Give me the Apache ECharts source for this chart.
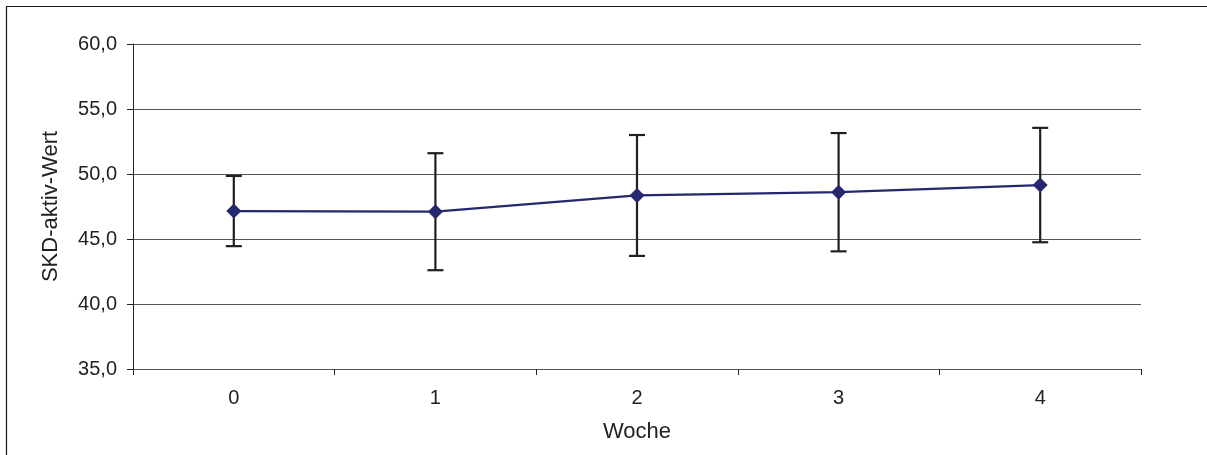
<!DOCTYPE html>
<html>
<head>
<meta charset="utf-8">
<script src="https://cdn.jsdelivr.net/npm/echarts@6/dist/echarts.min.js"></script>
<style>
  html, body { margin: 0; padding: 0; background: #fff; }
  #chart { width: 1207px; height: 455px; }
</style>
</head>
<body>
<div id="chart"></div>
<script>
// Weekly SKD-aktiv scores: mean and standard deviation per week
const weeks = ['0', '1', '2', '3', '4'];
const means = [47.15, 47.1, 48.35, 48.6, 49.15];
const sds = [2.7, 4.5, 4.65, 4.55, 4.4];
const yTicks = { min: 35, max: 60, step: 5 };

const errorData = weeks.map((w, i) => [i, means[i] - sds[i], means[i] + sds[i]]);

const textColor = '#222';
const font = '"Liberation Sans", Arial, sans-serif';

const chart = echarts.init(document.getElementById('chart'), null, { renderer: 'canvas' });

chart.setOption({
  animation: false,
  backgroundColor: '#fff',
  graphic: [{
    type: 'rect',
    shape: { x: 6.5, y: 6.5, width: 1400, height: 600 },
    style: { fill: 'none', stroke: '#1a1a1a', lineWidth: 1.2 },
    silent: true,
    z: 0
  }],
  grid: { left: 133, right: 66, top: 44, bottom: 86 },
  xAxis: {
    type: 'category',
    data: weeks,
    boundaryGap: true,
    name: 'Woche',
    nameLocation: 'middle',
    nameGap: 52,
    nameTextStyle: { color: textColor, fontSize: 22, fontFamily: font },
    axisLine: { lineStyle: { color: '#555', width: 1 } },
    axisTick: { show: true, alignWithLabel: false, length: 6, lineStyle: { color: '#222' } },
    axisLabel: { color: textColor, fontSize: 20, fontFamily: font, margin: 19 }
  },
  yAxis: {
    type: 'value',
    min: yTicks.min,
    max: yTicks.max,
    interval: yTicks.step,
    name: 'SKD-aktiv-Wert',
    nameLocation: 'middle',
    nameGap: 71,
    nameTextStyle: { color: textColor, fontSize: 22, fontFamily: font },
    axisLine: { show: true, lineStyle: { color: '#222', width: 1 } },
    axisTick: { show: true, length: 6, lineStyle: { color: '#222' } },
    axisLabel: {
      color: textColor, fontSize: 20, fontFamily: font, margin: 16,
      formatter: v => v.toFixed(1).replace('.', ',')
    },
    splitLine: { show: true, lineStyle: { color: '#555', width: 1 } }
  },
  series: [
    {
      type: 'custom',
      z: 1,
      data: errorData,
      renderItem: (params, api) => {
        const x = api.value(0);
        const lo = api.coord([x, api.value(1)]);
        const hi = api.coord([x, api.value(2)]);
        const half = 8;
        const style = { stroke: '#231f20', lineWidth: 2.2 };
        return {
          type: 'group',
          children: [
            { type: 'line', shape: { x1: lo[0], y1: lo[1], x2: hi[0], y2: hi[1] }, style },
            { type: 'line', shape: { x1: hi[0] - half, y1: hi[1], x2: hi[0] + half, y2: hi[1] }, style },
            { type: 'line', shape: { x1: lo[0] - half, y1: lo[1], x2: lo[0] + half, y2: lo[1] }, style }
          ]
        };
      }
    },
    {
      type: 'line',
      z: 2,
      data: means,
      symbol: 'diamond',
      symbolSize: 15,
      lineStyle: { color: '#25276f', width: 2.2 },
      itemStyle: { color: '#25276f' }
    }
  ]
});
</script>
</body>
</html>
